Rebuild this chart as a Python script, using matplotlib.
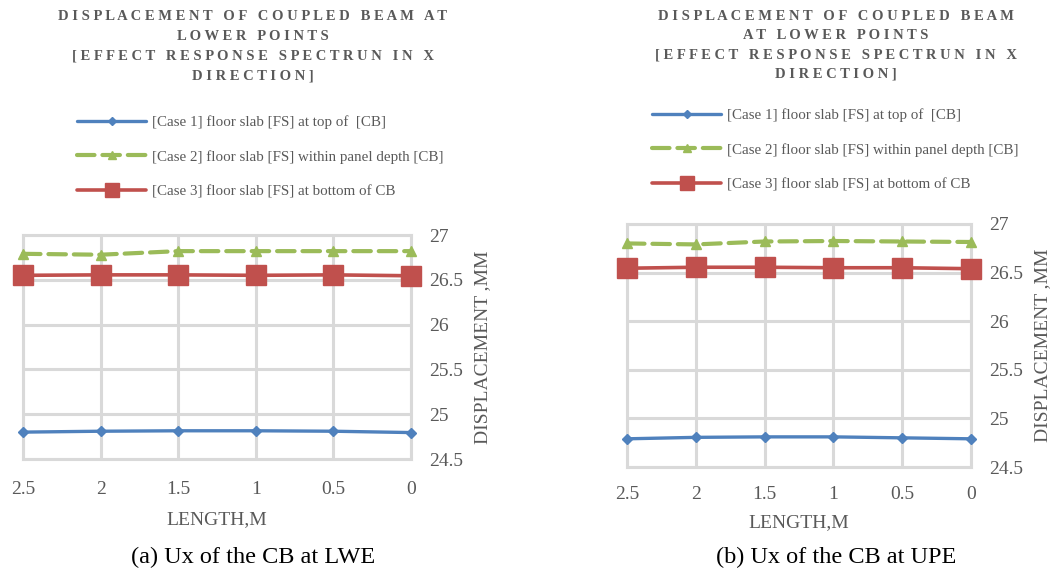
import matplotlib
matplotlib.use("Agg")
import matplotlib.pyplot as plt

plt.rcParams['font.family'] = ['Liberation Serif', 'DejaVu Serif']

# ---- data ----
lengths = ["2.5", "2", "1.5", "1", "0.5", "0"]

lwe_case1 = [24.80, 24.81, 24.815, 24.815, 24.81, 24.795]
lwe_case2 = [26.79, 26.78, 26.82, 26.82, 26.82, 26.82]
lwe_case3 = [26.55, 26.555, 26.555, 26.55, 26.555, 26.545]

upe_case1 = [24.79, 24.805, 24.81, 24.81, 24.80, 24.79]
upe_case2 = [26.80, 26.79, 26.82, 26.825, 26.82, 26.815]
upe_case3 = [26.545, 26.555, 26.555, 26.55, 26.55, 26.54]

series_labels = ["[Case 1] floor slab [FS] at top of  [CB]",
                 "[Case 2] floor slab [FS] within panel depth [CB]",
                 "[Case 3] floor slab [FS] at bottom of CB"]

y_ticks = [24.5, 25, 25.5, 26, 26.5, 27]

title_left = ["DISPLACEMENT OF COUPLED BEAM AT", "LOWER POINTS",
              "[EFFECT RESPONSE SPECTRUN IN X", "DIRECTION]"]
title_right = ["DISPLACEMENT OF COUPLED BEAM", "AT LOWER POINTS",
               "[EFFECT RESPONSE SPECTRUN IN X", "DIRECTION]"]

captions = ["(a) Ux of the CB at LWE", "(b) Ux of the CB at UPE"]

# ---- style ----
BLUE = "#4F81BD"
GREEN = "#9BBB59"
RED = "#C0504D"
TEXT = "#595959"
GRID = "#D9D9D9"

W, H = 1062, 572
fig = plt.figure(figsize=(W / 100, H / 100), dpi=100)


def spaced(s):
    return "   ".join(" ".join(word) for word in s.split(" "))


def fx(px):
    return px / W


def fy(py):
    return 1 - py / H


def draw_panel(left, right, top, bottom, c1, c2, c3, title_lines, title_cx,
               title_y0, legend_xy, xtick_pad, xlabel_y, caption):
    ax = fig.add_axes([fx(left), fy(bottom), fx(right - left),
                       (bottom - top) / H])
    x = list(range(len(lengths)))
    h1, = ax.plot(x, c1, color=BLUE, lw=2.4, marker="D", ms=5,
                  solid_capstyle="round", zorder=3, clip_on=False)
    h2, = ax.plot(x, c2, color=GREEN, lw=3.0, marker="^", ms=7,
                  dashes=(4.2, 1.9), dash_capstyle="round", zorder=3,
                  clip_on=False)
    h3, = ax.plot(x, c3, color=RED, lw=2.6, marker="s", ms=14,
                  solid_capstyle="round", zorder=3, clip_on=False)

    ax.set_xlim(0, len(lengths) - 1)
    ax.set_ylim(y_ticks[0], y_ticks[-1])
    ax.set_xticks(x)
    ax.set_xticklabels(lengths)
    ax.set_yticks(y_ticks)
    ax.set_yticklabels([f"{v:g}" for v in y_ticks])
    ax.yaxis.tick_right()
    ax.yaxis.set_label_position("right")
    ax.tick_params(axis="both", length=0, labelsize=14, colors=TEXT)
    ax.tick_params(axis="y", pad=13)
    ax.tick_params(axis="x", pad=xtick_pad)
    ax.grid(True, color=GRID, lw=2.2)
    ax.set_axisbelow(True)
    for sp in ax.spines.values():
        sp.set_color(GRID)
        sp.set_linewidth(2.2)
    ax.set_ylabel("DISPLACEMENT ,MM", fontsize=14, color=TEXT, labelpad=8)

    fig.text(fx((left + right) / 2), fy(xlabel_y), "LENGTH,M", fontsize=14,
             color=TEXT, ha="center", va="center")
    fig.text(fx(title_cx), fy(557), caption, fontsize=17.5,
             color="black", ha="center", va="center")

    for i, line in enumerate(title_lines):
        fig.text(fx(title_cx), fy(title_y0 + i * 19.5), spaced(line),
                 fontsize=10.5, fontweight="bold", color=TEXT,
                 ha="center", va="center")

    fig.legend([h1, h2, h3], series_labels, loc="upper left",
               bbox_to_anchor=(fx(legend_xy[0]), fy(legend_xy[1])),
               frameon=False, fontsize=10.8, labelcolor=TEXT,
               handlelength=4.6, handletextpad=0.4, labelspacing=1.4,
               borderpad=0, borderaxespad=0, markerscale=0.75)
    return ax


draw_panel(23, 411, 235, 459,
           lwe_case1, lwe_case2, lwe_case3, title_left, 253, 17, (77, 115),
           16, 520, captions[0])

draw_panel(627, 971, 224, 467,
           upe_case1, upe_case2, upe_case3, title_right, 836, 16, (652, 108),
           14, 523, captions[1])

fig.savefig("out.png", dpi=100, facecolor="white")
